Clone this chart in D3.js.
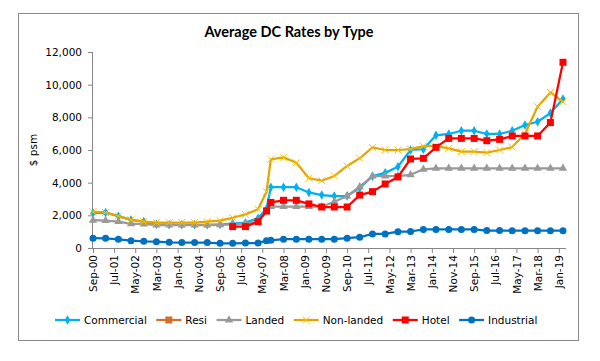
<!DOCTYPE html>
<html>
<head>
<meta charset="utf-8">
<script src="https://cdn.jsdelivr.net/npm/d3@7"></script>
<style>
  body { margin: 0; background: #fff; }
  text { font-family: "DejaVu Sans", sans-serif; fill: #404040; }
</style>
</head>
<body>
<svg id="chart" width="600" height="361"></svg>
<script>
// semi-annual revision dates (plus the extra Jul-07 revision)
const dates = ["Sep-00","Mar-01","Sep-01","Mar-02","Sep-02","Mar-03","Sep-03","Mar-04","Sep-04","Mar-05",
  "Sep-05","Mar-06","Sep-06","Mar-07","Jul-07","Sep-07","Mar-08","Sep-08","Mar-09","Sep-09",
  "Mar-10","Sep-10","Mar-11","Sep-11","Mar-12","Sep-12","Mar-13","Sep-13","Mar-14","Sep-14",
  "Mar-15","Sep-15","Mar-16","Sep-16","Mar-17","Sep-17","Mar-18","Sep-18","Mar-19"];

const commercial = [2150,2170,1950,1720,1620,1450,1430,1420,1420,1420,
  1440,1500,1550,1820,2400,3720,3720,3720,3400,3240,
  3180,3180,3680,4400,4600,4980,6000,6050,6900,6980,
  7180,7180,6980,6980,7180,7530,7730,8260,9120];
const resi = []; // in the legend only, no visible points
const landed = [1700,1680,1620,1480,1470,1400,1400,1400,1400,1400,
  1420,1450,1500,1600,2200,2530,2530,2530,2530,2530,
  2830,3180,3750,4400,4400,4400,4480,4820,4880,4880,
  4880,4880,4880,4880,4880,4880,4880,4880,4880];
const nonLanded = [2220,2170,1960,1720,1620,1560,1560,1560,1560,1610,
  1680,1850,2060,2370,3450,5430,5550,5220,4270,4120,
  4410,5020,5490,6160,6000,6000,6050,6240,6240,6100,
  5900,5900,5840,6000,6180,7000,8650,9520,8950];
const hotel = [null,null,null,null,null,null,null,null,null,null,
  null,1310,1310,1610,2270,2790,2920,2920,2700,2510,
  2510,2510,3240,3450,3920,4350,5450,5490,6160,6710,
  6710,6710,6570,6650,6860,6860,6860,7680,11370];
const industrial = [600,590,530,450,410,390,350,330,330,330,
  290,290,300,300,450,470,540,540,540,540,
  540,600,660,860,860,1000,1010,1140,1140,1140,
  1140,1140,1070,1070,1060,1060,1060,1060,1060];

const xTickLabels = ["Sep-00","Jul-01","May-02","Mar-03","Jan-04","Nov-04","Sep-05","Jul-06","May-07",
  "Mar-08","Jan-09","Nov-09","Sep-10","Jul-11","May-12","Mar-13","Jan-14","Nov-14","Sep-15",
  "Jul-16","May-17","Mar-18","Jan-19"];
const yTicks = [0,2000,4000,6000,8000,10000,12000];

const series = [
  {name: "Commercial", values: commercial, color: "#00B0F0", marker: "diamond"},
  {name: "Resi", values: resi, color: "#D0702C", marker: "square"},
  {name: "Landed", values: landed, color: "#999999", marker: "triangle"},
  {name: "Non-landed", values: nonLanded, color: "#E3A600", marker: "cross"},
  {name: "Hotel", values: hotel, color: "#FF0000", marker: "square"},
  {name: "Industrial", values: industrial, color: "#0070C0", marker: "circle"}
];

const parse = d3.timeParse("%b-%y");
const svg = d3.select("#chart");

svg.append("rect").attr("x", 18.5).attr("y", 13.5).attr("width", 560).attr("height", 327)
  .attr("fill", "#fff").attr("stroke", "#898989");

const x = d3.scaleTime()
  .domain([parse("Sep-00"), parse("Mar-19")])
  .range([93, 563]);
const y = d3.scaleLinear().domain([0, 12000]).range([248, 52]);

// title
svg.append("text").attr("x", 289).attr("y", 37).attr("text-anchor", "middle")
  .style("font-family", "Lato, sans-serif").style("font-weight", "bold").style("font-size", "14.5px")
  .style("fill", "#000").text("Average DC Rates by Type");

// y axis
const yAxis = svg.append("g").attr("transform", "translate(93,0)")
  .call(d3.axisLeft(y).tickValues(yTicks).tickSize(5).tickPadding(6).tickFormat(d3.format(",")));
yAxis.select(".domain").attr("stroke", "#868686").attr("d", "M-0.5,52.5V248.5");
yAxis.selectAll(".tick line").attr("stroke", "#868686");
yAxis.selectAll("text").style("font-size", "10.5px").style("fill", "#000");

svg.append("text").attr("transform", "translate(37,150) rotate(-90)")
  .attr("text-anchor", "middle").style("font-size", "10.5px").style("fill", "#000").text("$ psm");

// x axis
const xAxis = svg.append("g").attr("transform", "translate(0,248)")
  .call(d3.axisBottom(x).tickValues(xTickLabels.map(parse)).tickSize(5).tickFormat(d3.timeFormat("%b-%y")));
xAxis.select(".domain").attr("stroke", "#868686").attr("d", "M93,0.5H566");
xAxis.selectAll(".tick line").attr("stroke", "#868686");
xAxis.selectAll("text")
  .attr("transform", "rotate(-90)")
  .attr("x", -7).attr("y", 0).attr("dy", "0.35em")
  .attr("text-anchor", "end")
  .style("font-size", "10.5px").style("fill", "#000");

// markers
function drawMarker(g, type, color) {
  if (type === "diamond") {
    g.append("path").attr("d", d3.symbol(d3.symbolDiamond, 26)()).attr("fill", color);
  } else if (type === "square") {
    g.append("rect").attr("x", -3.5).attr("y", -3.5).attr("width", 7).attr("height", 7).attr("fill", color);
  } else if (type === "triangle") {
    g.append("path").attr("d", d3.symbol(d3.symbolTriangle, 30)()).attr("fill", color);
  } else if (type === "cross") {
    g.append("path").attr("d", "M-3.5,-3.5L3.5,3.5M-3.5,3.5L3.5,-3.5")
      .attr("stroke", "#FFC000").attr("stroke-width", 1).attr("fill", "none");
  } else if (type === "circle") {
    g.append("circle").attr("r", 3.5).attr("fill", color);
  }
}

const line = d3.line()
  .defined(d => d.v != null)
  .x(d => x(d.date))
  .y(d => y(d.v));

const plot = svg.append("g");
series.forEach(s => {
  const pts = s.values.map((v, i) => ({date: parse(dates[i]), v: v}));
  const g = plot.append("g");
  g.append("path").datum(pts).attr("d", line)
    .attr("fill", "none").attr("stroke", s.color).attr("stroke-width", 2.25)
    .attr("stroke-linejoin", "round");
  g.selectAll("g.m").data(pts.filter(d => d.v != null)).join("g")
    .attr("class", "m")
    .attr("transform", d => `translate(${x(d.date)},${y(d.v)})`)
    .each(function () { drawMarker(d3.select(this), s.marker, s.color); });
});

// legend
const legend = svg.append("g").attr("transform", "translate(0,320)");
let lx = 55;
series.forEach(s => {
  const item = legend.append("g").attr("transform", `translate(${lx},0)`);
  item.append("line").attr("x1", 0).attr("x2", 25).attr("stroke", s.color).attr("stroke-width", 2.25);
  const m = item.append("g").attr("transform", "translate(12.5,0)");
  drawMarker(m, s.marker, s.color);
  const t = item.append("text").attr("x", 29).attr("dy", "0.35em")
    .style("font-size", "10.5px").style("fill", "#000").text(s.name);
  lx += 29 + t.node().getComputedTextLength() + 9.5;
});
</script>
</body>
</html>
